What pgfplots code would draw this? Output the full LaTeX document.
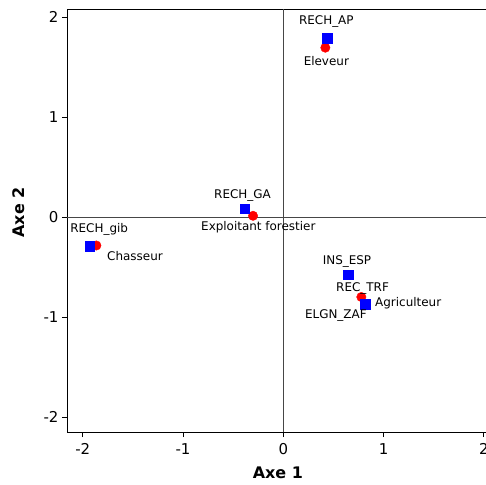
\documentclass[border=0pt]{standalone}
\usepackage{pgfplots}
\pgfplotsset{compat=1.18}
\usepackage{fontspec}
\setmainfont{DejaVu Sans}
\definecolor{refline}{RGB}{70,70,70}
\begin{document}
\begin{tikzpicture}
\begin{axis}[
  scale only axis,
  width=420bp, height=423bp,
  at={(0,0)}, anchor=south west,
  xmin=-2.157, xmax=2.031,
  ymin=-2.15, ymax=2.08,
  xtick={-2,-1,0,1,2}, ytick={-2,-1,0,1,2},
  xtick pos=bottom, ytick pos=left,
  tick align=outside,
  major tick length=5bp,
  tick style={black, line width=0.8pt},
  axis line style={black, line width=0.8pt},
  /pgf/number format/assume math mode=true,
  ticklabel style={font=\fontsize{15}{18}\selectfont},
  xticklabel style={yshift=-3bp},
  xlabel={\bfseries Axe 1},
  ylabel={\bfseries Axe 2},
  xlabel style={at={(axis description cs:0.502,-0.097)}, anchor=center, font=\fontsize{16}{19}\selectfont},
  ylabel style={at={(axis description cs:-0.1155,0.519)}, anchor=center, rotate=0, font=\fontsize{16}{19}\selectfont},
  clip=false,
]
% reference lines
\addplot[refline, line width=0.8pt] coordinates {(-2.157,0) (2.031,0)};
\addplot[refline, line width=0.8pt] coordinates {(0,-2.15) (0,2.08)};
% individuals (red circles)
\addplot[only marks, mark=*, mark size=4.7bp, color=red, mark options={draw=red, fill=red}] coordinates {
  (0.419,1.693) (-0.302,0.012) (-1.864,-0.285) (0.778,-0.800)
};
% variables (blue squares)
\addplot[only marks, mark=square*, mark size=4.7bp, color=blue, mark options={draw=blue, fill=blue}] coordinates {
  (0.439,1.787) (-0.385,0.082) (-1.930,-0.293) (0.645,-0.580) (0.815,-0.873) (0.815,-0.873)
};
% labels
\addplot[draw=none, mark=none, nodes near coords, point meta=explicit symbolic,
  nodes near coords style={anchor=base, inner sep=0pt, font=\fontsize{12}{14}\selectfont, text=black}]
  table[col sep=comma, row sep=\\, x=x, y=y, meta=label] {
x,y,label\\
0.429,1.92,RECH\_AP\\
0.429,1.51,Eleveur\\
-0.407,0.185,RECH\_GA\\
-0.249,-0.135,Exploitant forestier\\
-1.836,-0.16,RECH\_gib\\
-1.479,-0.44,Chasseur\\
0.635,-0.48,INS\_ESP\\
0.79,-0.747,REC\_TRF\\
1.245,-0.90,Agriculteur\\
0.524,-1.015,ELGN\_ZAF\\
};
\end{axis}
\pgfresetboundingbox
\path[use as bounding box] (-67bp,-53bp) rectangle (419bp,432bp);
\end{tikzpicture}
\end{document}
